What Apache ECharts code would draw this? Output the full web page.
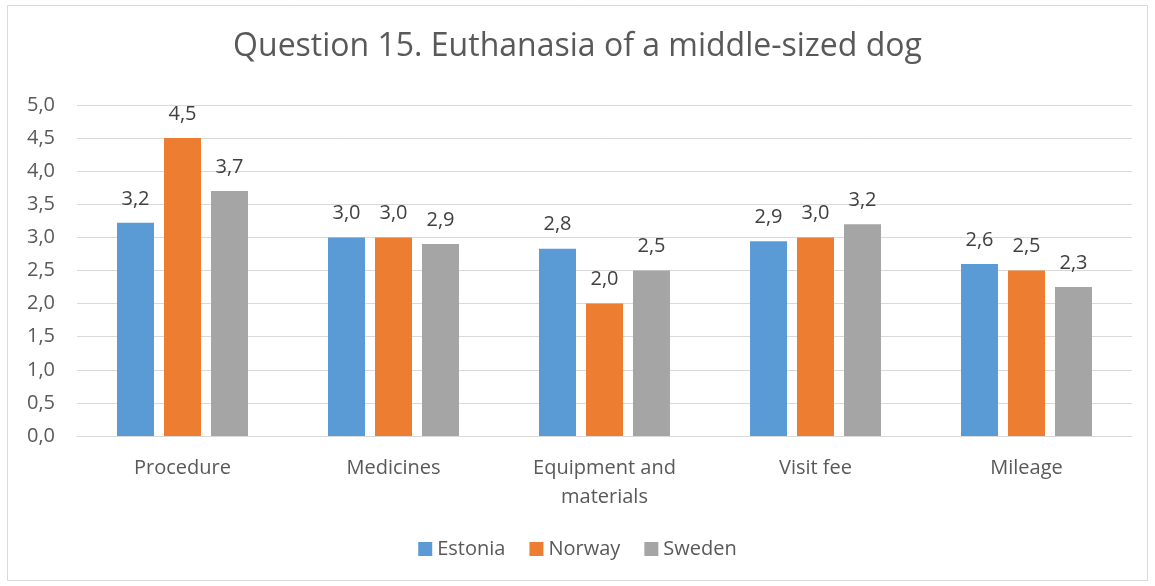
<!DOCTYPE html>
<html>
<head>
<meta charset="utf-8">
<script src="https://cdn.jsdelivr.net/npm/echarts@6/dist/echarts.min.js"></script>
<style>
  html, body { margin: 0; padding: 0; background: #fff; }
  #chart { width: 1155px; height: 586px; }
</style>
</head>
<body>
<div id="chart"></div>
<script>
// data
const categories = ['Procedure', 'Medicines', 'Equipment and\nmaterials', 'Visit fee', 'Mileage'];
const estonia = [3.22, 3.0, 2.83, 2.94, 2.6];
const norway = [4.5, 3.0, 2.0, 3.0, 2.5];
const sweden = [3.7, 2.9, 2.5, 3.2, 2.25];

const FONT = '"Open Sans", sans-serif';
const TXT = '#595959';
const comma = v => v.toFixed(1).replace('.', ',');

const chart = echarts.init(document.getElementById('chart'));

const barSeries = (name, data, color) => ({
  name: name,
  type: 'bar',
  data: data,
  barWidth: 37,
  barGap: '27%',
  itemStyle: { color: color },
  label: {
    show: true,
    position: 'top',
    distance: 14,
    color: '#404040',
    fontFamily: FONT,
    fontSize: 20,
    formatter: p => comma(p.value)
  }
});

chart.setOption({
  animation: false,
  title: {
    text: 'Question 15. Euthanasia of a middle-sized dog',
    left: 'center',
    top: 26,
    textStyle: { color: TXT, fontFamily: FONT, fontSize: 32, fontWeight: 'normal' }
  },
  graphic: [{
    type: 'rect',
    shape: { x: 7.5, y: 5.5, width: 1140, height: 575 },
    style: { fill: 'none', stroke: '#D9D9D9', lineWidth: 1 },
    silent: true
  }],
  legend: {
    bottom: 22,
    left: 'center',
    itemWidth: 14,
    itemHeight: 14,
    itemGap: 24,
    icon: 'rect',
    textStyle: { color: TXT, fontFamily: FONT, fontSize: 20 }
  },
  grid: { left: 77, right: 23, top: 105, bottom: 150 },
  xAxis: {
    type: 'category',
    data: categories,
    axisLine: { lineStyle: { color: '#D9D9D9' } },
    axisTick: { show: false },
    axisLabel: { color: TXT, fontFamily: FONT, fontSize: 20, margin: 18, lineHeight: 29 }
  },
  yAxis: {
    type: 'value',
    min: 0,
    max: 5,
    interval: 0.5,
    axisLine: { show: false },
    axisTick: { show: false },
    splitLine: { lineStyle: { color: '#D9D9D9' } },
    axisLabel: { color: TXT, fontFamily: FONT, fontSize: 20, margin: 22, formatter: comma }
  },
  series: [
    barSeries('Estonia', estonia, '#5B9BD5'),
    barSeries('Norway', norway, '#ED7D31'),
    barSeries('Sweden', sweden, '#A5A5A5')
  ]
});
</script>
</body>
</html>
